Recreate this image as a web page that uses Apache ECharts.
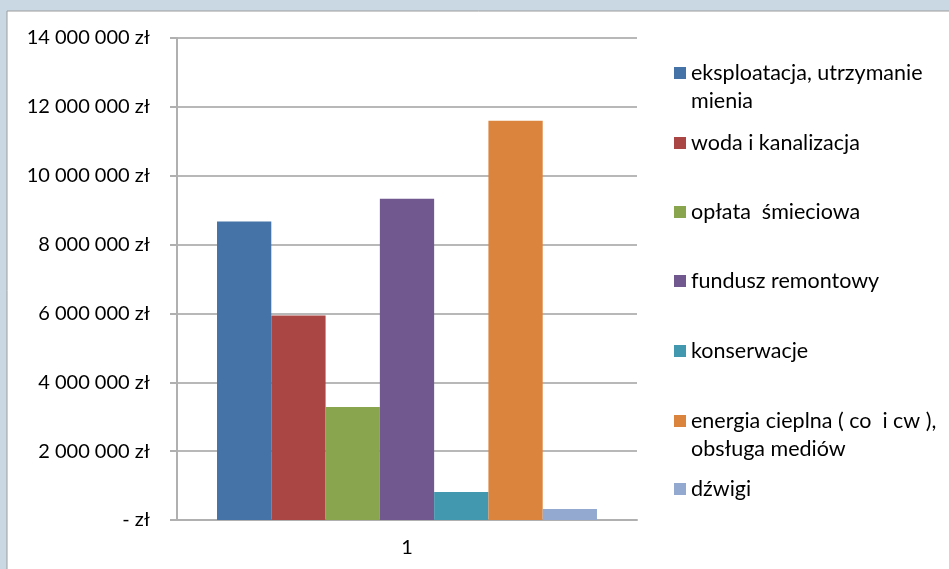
<!DOCTYPE html>
<html><head><meta charset="utf-8">
<script src="https://cdn.jsdelivr.net/npm/echarts@6/dist/echarts.min.js"></script>
<style>html,body{margin:0;padding:0;background:#c9d8e3;}#c{width:949px;height:569px;}</style>
</head><body><div id="c"></div>
<script>
const categories = ['1'];
const seriesNames = [
  'eksploatacja, utrzymanie\nmienia',
  'woda i kanalizacja',
  'opłata  śmieciowa',
  'fundusz remontowy',
  'konserwacje',
  'energia cieplna ( co  i cw ),\nobsługa mediów',
  'dźwigi'
];
const seriesValues = [8670000, 5940000, 3280000, 9330000, 810000, 11600000, 320000];
const seriesColors = ['#4572a7', '#aa4643', '#89a54e', '#71588f', '#4198af', '#db843d', '#93a9cf'];
const yTicks = [0, 2000000, 4000000, 6000000, 8000000, 10000000, 12000000, 14000000];

const FONT = 'Lato';
const LH = 28;
const legendCenters = [73, 143, 212, 281, 351, 421, 489];

function fmt(v) {
  if (v === 0) return '- zł';
  return String(v).replace(/\B(?=(\d{3})+(?!\d))/g, ' ') + ' zł';
}

const chart = echarts.init(document.getElementById('c'));
const legends = seriesNames.map((n, i) => {
  const multi = n.indexOf('\n') >= 0;
  return {
    data: [n],
    left: 674,
    top: legendCenters[i] - (multi ? LH * 1.5 : LH / 2),
    padding: 0,
    itemWidth: 12,
    itemHeight: 12,
    icon: 'rect',
    selectedMode: false,
    formatter: name => (name.indexOf('\n') >= 0 ? ' \n' + name : name),
    textStyle: {
      fontFamily: FONT, fontSize: 21.5, color: '#000',
      lineHeight: LH
    }
  };
});

chart.setOption({
  animation: false,
  backgroundColor: '#c9d8e3',
  graphic: [{
    type: 'rect', z: -10, silent: true,
    shape: { x: 7, y: 11, width: 960, height: 580 },
    style: { fill: '#ffffff', stroke: '#9c9c9c', lineWidth: 1 }
  }],
  legend: legends,
  grid: { left: 177, right: 312, top: 38, bottom: 49, containLabel: false },
  xAxis: {
    type: 'category',
    data: categories,
    axisLine: { show: true, lineStyle: { color: '#b0b0b0', width: 2 } },
    axisTick: { show: false },
    axisLabel: { fontFamily: FONT, fontSize: 20, color: '#000', margin: 18 }
  },
  yAxis: {
    type: 'value',
    min: 0, max: 14000000, interval: 2000000,
    axisLine: { show: true, lineStyle: { color: '#b0b0b0', width: 2 } },
    axisTick: { show: true, length: 7, lineStyle: { color: '#b0b0b0', width: 2 } },
    splitLine: { show: true, lineStyle: { color: '#b8b8b8', width: 2 } },
    axisLabel: {
      fontFamily: FONT, fontSize: 20, color: '#000', margin: 27,
      formatter: v => yTicks.indexOf(v) >= 0 ? fmt(v) : ''
    }
  },
  series: seriesNames.map((n, i) => ({
    name: n,
    type: 'bar',
    barGap: 0,
    barCategoryGap: '17.4%',
    itemStyle: { color: seriesColors[i] },
    data: [seriesValues[i]]
  }))
});
</script></body></html>
